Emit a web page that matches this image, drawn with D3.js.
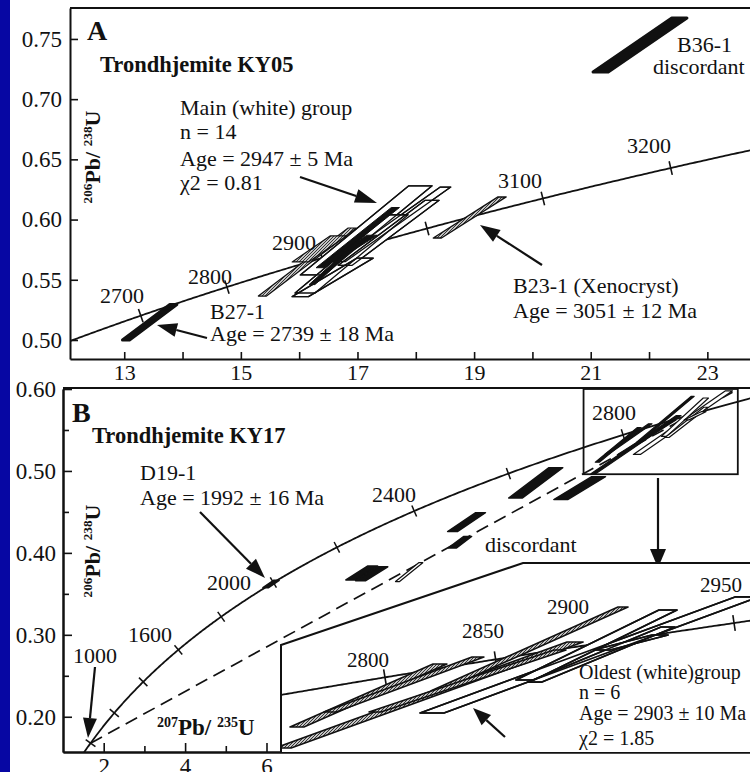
<!DOCTYPE html>
<html>
<head>
<meta charset="utf-8">
<script src="https://cdn.jsdelivr.net/npm/d3@7"></script>
<style>
  html, body { margin: 0; padding: 0; background: #fff; }
  svg { display: block; font-family: "Liberation Serif", "Times New Roman", serif; }
  text { white-space: pre; }
</style>
</head>
<body>
<svg id="chart" width="750" height="772"></svg>
<script>
// U–Pb decay constants, per Ma
const L238 = 1.55125e-4, L235 = 9.8485e-4;
// concordia point [207Pb/235U, 206Pb/238U] for an age in Ma
const concordia = t => [Math.exp(L235 * t) - 1, Math.exp(L238 * t) - 1];

// ---------- Panel A : Trondhjemite KY05 ----------
const aXTicks = [13, 14, 15, 16, 17, 18, 19, 20, 21, 22, 23];
const aXLabels = [13, 15, 17, 19, 21, 23];
const aYTicks = [0.50, 0.55, 0.60, 0.65, 0.70, 0.75];
const aAgeTicks = [2700, 2800, 2900, 3000, 3100, 3200];
const aAgeLabels = [2700, 2800, 2900, 3100, 3200];

// grain error shapes: [207/235 low, 206/238 low, 207/235 high, 206/238 high, half-width (207/235)]
const aMainWhite = [
  [16.22, 0.554, 18.08, 0.628, 0.20],
  [16.70, 0.565, 18.51, 0.627, 0.09],
  [16.10, 0.539, 17.70, 0.604, 0.17],
  [16.79, 0.562, 18.28, 0.616, 0.12],
  [16.02, 0.536, 17.13, 0.568, 0.14]
];
const aMainGrey = [
  [15.37, 0.5365, 16.91, 0.593, 0.07],
  [16.02, 0.5648, 16.67, 0.5864, 0.14]
];
const aMainBlack = [
  [16.36, 0.560, 17.65, 0.610, 0.07],
  [16.53, 0.565, 17.25, 0.587, 0.09],
  [16.22, 0.546, 16.88, 0.575, 0.05]
];
const b27Age = 2739;                       // upper end sits on concordia
const b27Low = [13.03, 0.500], b27Err = 0.06;
const b23 = [18.37, 0.5847, 19.48, 0.6188, 0.07];
const b36 = [21.17, 0.7226, 22.52, 0.7674, 0.13];

// ---------- Panel B : Trondhjemite KY17 ----------
const bXMajor = [2, 4, 6], bXMinor = [3, 5];
const bYMajor = [0.20, 0.30, 0.40, 0.50, 0.60], bYMinor = [0.25, 0.35, 0.45, 0.55];
const bAgeTicks = [1000, 1200, 1400, 1600, 1800, 2000, 2200, 2400, 2600, 2800];
const bAgeLabels = [1000, 1600, 2000, 2400, 2800];
const insetAgeTicks = [2800, 2850, 2900, 2950];
const discordiaLower = 1000, discordiaUpper = 2903, discordiaEnd = 17.45;
const d19Age = 1992;
const bBlack = [
  [8.07, 0.367, 8.61, 0.384, 0.12],
  [8.31, 0.366, 8.86, 0.383, 0.12],
  [10.57, 0.426, 11.26, 0.449, 0.12],
  [10.57, 0.406, 10.94, 0.420, 0.10],
  [12.12, 0.467, 13.11, 0.504, 0.17],
  [13.23, 0.465, 14.16, 0.493, 0.17]
];
const bWhite = [[9.22, 0.365, 9.79, 0.388, 0.05]];
// oldest group, shown magnified in the inset
const oldGrey = [
  [14.129, 0.5107, 15.157, 0.5529, 0.050],
  [14.367, 0.5208, 15.430, 0.5576, 0.043],
  [14.029, 0.4967, 16.128, 0.5676, 0.058],
  [15.130, 0.5350, 16.473, 0.5911, 0.036],
  [14.690, 0.5208, 16.020, 0.5623, 0.043]
];
const oldWhite = [
  [15.100, 0.5201, 17.364, 0.5978, 0.086],
  [15.768, 0.5422, 16.796, 0.5890, 0.065],
  [15.840, 0.5408, 16.796, 0.5777, 0.050],
  [16.322, 0.5623, 16.739, 0.5723, 0.058]
];
const zoomBox = [13.79, 0.496, 17.58, 0.600];

// ---------- drawing ----------
const W = 750, H = 772;
const INK = '#111';
const FONT = '"Liberation Serif", "Times New Roman", serif';
const svg = d3.select('#chart');
svg.append('rect').attr('width', W).attr('height', H).attr('fill', '#fff');
svg.append('rect').attr('width', 10).attr('height', H).attr('fill', '#0707a3');

const defs = svg.append('defs');
const pat = defs.append('pattern').attr('id', 'hatch')
  .attr('patternUnits', 'userSpaceOnUse').attr('width', 3).attr('height', 3);
pat.append('rect').attr('width', 3).attr('height', 3).attr('fill', '#c4c4c4');
pat.append('path').attr('d', 'M0,3L3,0M-1,1L1,-1M2,4L4,2').attr('stroke', '#333').attr('stroke-width', 1);

const xA = d3.scaleLinear().domain([12.07, 23.8]).range([70, 754]);
const yA = d3.scaleLinear().domain([0.4842, 0.7757]).range([359, 8]);
const xB = d3.scaleLinear().domain([1, 18]).range([63, 754.9]);
const yB = d3.scaleLinear().domain([0.157, 0.6]).range([752, 389]);
const xI = d3.scaleLinear().domain([14.0, 17.4]).range([279, 752]);
const yI = d3.scaleLinear().domain([0.494, 0.6205]).range([752, 563]);

defs.append('clipPath').attr('id', 'clipA').append('rect')
  .attr('x', 70).attr('y', 8).attr('width', 680).attr('height', 351);
defs.append('clipPath').attr('id', 'clipB').append('rect')
  .attr('x', 63).attr('y', 388).attr('width', 687).attr('height', 364);
const insetPoly = [[281, 752], [281, 645], [523, 563], [752, 563], [752, 752]];
defs.append('clipPath').attr('id', 'clipI').append('polygon')
  .attr('points', insetPoly.map(p => p.join(',')).join(' '));

const lineGen = (xs, ys) => d3.line().x(p => xs(p[0])).y(p => ys(p[1]));

function concordiaCurve(g, xs, ys, t0, t1, step, sw) {
  const pts = d3.range(t0, t1 + step / 2, step).map(concordia);
  g.append('path').attr('d', lineGen(xs, ys)(pts))
    .attr('fill', 'none').attr('stroke', INK).attr('stroke-width', sw);
}
function ageTicks(g, xs, ys, ages, len, sw) {
  ages.forEach(t => {
    const p = concordia(t), a = concordia(t - 1), b = concordia(t + 1);
    const dx = xs(b[0]) - xs(a[0]), dy = ys(b[1]) - ys(a[1]), n = Math.hypot(dx, dy);
    const nx = -dy / n, ny = dx / n, X = xs(p[0]), Y = ys(p[1]);
    g.append('line').attr('x1', X - nx * len).attr('y1', Y - ny * len)
      .attr('x2', X + nx * len).attr('y2', Y + ny * len)
      .attr('stroke', INK).attr('stroke-width', sw);
  });
}
function grain(g, d, xs, ys, kind, sw) {
  const [x1, y1, x2, y2, e] = d;
  const pts = [[x1 - e, y1], [x2 - e, y2], [x2 + e, y2], [x1 + e, y1]];
  const path = g.append('path').attr('d', lineGen(xs, ys)(pts) + 'Z')
    .attr('stroke', INK).attr('stroke-width', sw || 1.2).attr('stroke-linejoin', 'round');
  if (kind === 'white') path.attr('fill', '#fff');
  else if (kind === 'grey') path.attr('fill', 'url(#hatch)');
  else if (kind === 'outline') path.attr('fill', 'none');
  else path.attr('fill', INK);
  return path;
}
function arrow(g, x1, y1, x2, y2, len, hw) {
  len = len || 20; hw = hw || 7;
  const a = Math.atan2(y2 - y1, x2 - x1);
  const bx = x2 - len * Math.cos(a), by = y2 - len * Math.sin(a);
  g.append('line').attr('x1', x1).attr('y1', y1).attr('x2', bx).attr('y2', by)
    .attr('stroke', INK).attr('stroke-width', 2.2);
  g.append('path').attr('d',
    `M${x2},${y2}L${bx + hw * Math.sin(a)},${by - hw * Math.cos(a)}L${bx - hw * Math.sin(a)},${by + hw * Math.cos(a)}Z`)
    .attr('fill', INK);
}
function label(g, x, y, s, size, bold, anchor) {
  return g.append('text').attr('x', x).attr('y', y).text(s)
    .attr('font-size', size).attr('font-weight', bold ? 'bold' : 'normal')
    .attr('text-anchor', anchor || 'start').attr('fill', INK);
}
function isoLabel(g, x, y, rot, sup1, main1, sup2, main2, size) {
  const t = g.append('text').attr('transform', `translate(${x},${y}) rotate(${rot})`)
    .attr('font-weight', 'bold').attr('font-size', size).attr('text-anchor', 'middle').attr('fill', INK);
  const s = size * 0.6, up = size * 0.36;
  t.append('tspan').attr('font-size', s).attr('dy', -up).text(sup1);
  t.append('tspan').attr('dy', up).text(main1);
  t.append('tspan').attr('font-size', s).attr('dy', -up).text(sup2);
  t.append('tspan').attr('dy', up).text(main2);
}
function styleAxis(ax, size) {
  ax.attr('font-size', size).attr('font-family', FONT);
  ax.select('.domain').attr('stroke', INK).attr('stroke-width', 2);
  ax.selectAll('.tick line').attr('stroke', INK).attr('stroke-width', 1.6);
  ax.selectAll('.tick text').attr('fill', INK);
}

// ================= Panel A =================
const gA = svg.append('g');
gA.append('line').attr('x1', 70).attr('y1', 8).attr('x2', 750).attr('y2', 8)
  .attr('stroke', INK).attr('stroke-width', 2);
styleAxis(gA.append('g').attr('transform', 'translate(0,359)')
  .call(d3.axisBottom(xA).tickValues(aXTicks).tickSize(-7).tickSizeOuter(0).tickPadding(5)
    .tickFormat(d => aXLabels.includes(d) ? d : '')), 22);
styleAxis(gA.append('g').attr('transform', 'translate(70,0)')
  .call(d3.axisLeft(yA).tickValues(aYTicks).tickSize(-8).tickSizeOuter(0).tickPadding(8)
    .tickFormat(d3.format('.2f'))), 23);

const pA = gA.append('g').attr('clip-path', 'url(#clipA)');
concordiaCurve(pA, xA, yA, 2600, 3300, 2, 1.8);
ageTicks(pA, xA, yA, aAgeTicks, 7, 1.6);

// main (white) group
aMainWhite.forEach(d => grain(pA, d, xA, yA, 'white', 1.3));
aMainGrey.forEach(d => grain(pA, d, xA, yA, 'grey', 1.2));
aMainBlack.forEach(d => grain(pA, d, xA, yA, 'black', 1));
aMainWhite.forEach(d => grain(pA, d, xA, yA, 'outline', 1.3));
// single grains
const b27Top = concordia(b27Age);
grain(pA, [b27Low[0], b27Low[1], b27Top[0], b27Top[1], b27Err], xA, yA, 'black', 3);
grain(pA, b23, xA, yA, 'grey', 1.4);
grain(pA, b36, xA, yA, 'black', 3);

label(gA, 87, 40, 'A', 28, true);
label(gA, 100, 72, 'Trondhjemite KY05', 22.5, true);
label(gA, 180, 115, 'Main (white) group', 22);
label(gA, 180, 139, 'n = 14', 22);
label(gA, 180, 166, 'Age = 2947 ± 5 Ma', 22);
label(gA, 180, 190, 'χ2 = 0.81', 22);
label(gA, 677, 52, 'B36-1', 22);
label(gA, 653, 74, 'discordant', 22);
label(gA, 627, 153, '3200', 22);
label(gA, 498, 188, '3100', 22);
label(gA, 272, 250, '2900', 22);
label(gA, 188, 284, '2800', 22);
label(gA, 100, 303, '2700', 22);
label(gA, 210, 319, 'B27-1', 22);
label(gA, 210, 341, 'Age = 2739 ± 18 Ma', 22);
label(gA, 513, 293, 'B23-1 (Xenocryst)', 22);
label(gA, 513, 318, 'Age = 3051 ± 12 Ma', 22);
isoLabel(gA, 100, 157, -90, '206', 'Pb/ ', '238', 'U', 22);
arrow(gA, 300, 177, 377, 203, 22, 7);
arrow(gA, 207, 338, 157, 325, 20, 7);
arrow(gA, 542, 265, 480, 225, 20, 7);

// ================= Panel B =================
const gB = svg.append('g');
gB.append('line').attr('x1', 63).attr('y1', 388).attr('x2', 750).attr('y2', 388)
  .attr('stroke', INK).attr('stroke-width', 2);
styleAxis(gB.append('g').attr('transform', 'translate(0,752)')
  .call(d3.axisBottom(xB).tickValues(bXMajor).tickSize(-9).tickSizeOuter(0).tickPadding(6)), 23);
styleAxis(gB.append('g').attr('transform', 'translate(0,752)')
  .call(d3.axisBottom(xB).tickValues(bXMinor).tickSize(-6).tickSizeOuter(0).tickFormat('')), 23);
styleAxis(gB.append('g').attr('transform', 'translate(63,0)')
  .call(d3.axisLeft(yB).tickValues(bYMajor).tickSize(-9).tickSizeOuter(0).tickPadding(7)
    .tickFormat(d3.format('.2f'))), 23);
styleAxis(gB.append('g').attr('transform', 'translate(63,0)')
  .call(d3.axisLeft(yB).tickValues(bYMinor).tickSize(-6).tickSizeOuter(0).tickFormat('')), 23);

const pB = gB.append('g').attr('clip-path', 'url(#clipB)');
concordiaCurve(pB, xB, yB, 930, 3000, 5, 1.8);
ageTicks(pB, xB, yB, bAgeTicks, 6, 1.5);

// discordia through the lower and upper intercepts
const dLo = concordia(discordiaLower), dHi = concordia(discordiaUpper);
const dSlope = (dHi[1] - dLo[1]) / (dHi[0] - dLo[0]);
const dEnd = [discordiaEnd, dLo[1] + dSlope * (discordiaEnd - dLo[0])];
pB.append('path').attr('d', lineGen(xB, yB)([dLo, dEnd]))
  .attr('fill', 'none').attr('stroke', INK).attr('stroke-width', 1.7).attr('stroke-dasharray', '13,7');

bBlack.forEach(d => grain(pB, d, xB, yB, 'black', 1.5));
bWhite.forEach(d => grain(pB, d, xB, yB, 'white', 1.2));
const d19 = concordia(d19Age);
grain(pB, [d19[0] - 0.13, d19[1] - 0.0045, d19[0] + 0.13, d19[1] + 0.0045, 0.07], xB, yB, 'black', 1.5);
oldGrey.forEach(d => grain(pB, d, xB, yB, 'black', 1.2));
oldWhite.forEach(d => grain(pB, d, xB, yB, 'white', 1.2));

// zoom box and pointer
pB.append('rect').attr('x', xB(zoomBox[0])).attr('y', yB(zoomBox[3]))
  .attr('width', xB(zoomBox[2]) - xB(zoomBox[0])).attr('height', yB(zoomBox[1]) - yB(zoomBox[3]))
  .attr('fill', 'none').attr('stroke', INK).attr('stroke-width', 1.8);
arrow(gB, 658, 478, 658, 568, 19, 8);

label(gB, 72, 422, 'B', 28, true);
label(gB, 92, 443, 'Trondhjemite KY17', 22.5, true);
label(gB, 140, 480, 'D19-1', 22);
label(gB, 140, 505, 'Age = 1992 ± 16 Ma', 22);
label(gB, 372, 502, '2400', 22);
label(gB, 592, 420, '2800', 22);
label(gB, 207, 590, '2000', 22);
label(gB, 128, 642, '1600', 22);
label(gB, 73, 663, '1000', 22);
label(gB, 485, 552, 'discordant', 22);
arrow(gB, 200, 512, 265, 578, 20, 7);
arrow(gB, 95, 667, 88, 738, 20, 7);
isoLabel(gB, 100, 551, -90, '206', 'Pb/ ', '238', 'U', 22);

// ---------- inset: oldest group magnified ----------
const gI = svg.append('g');
gI.append('polygon').attr('points', insetPoly.map(p => p.join(',')).join(' ')).attr('fill', '#fff');
const pI = gI.append('g').attr('clip-path', 'url(#clipI)');
concordiaCurve(pI, xI, yI, 2740, 2995, 1, 1.8);
ageTicks(pI, xI, yI, insetAgeTicks, 8, 1.6);
oldWhite.forEach(d => grain(pI, d, xI, yI, 'white', 1.6));
oldGrey.forEach(d => grain(pI, d, xI, yI, 'grey', 1.6));
oldWhite.forEach(d => grain(pI, d, xI, yI, 'outline', 1.6));
gI.append('path').attr('d', d3.line()(insetPoly.slice(0, 4)))
  .attr('fill', 'none').attr('stroke', INK).attr('stroke-width', 2);

label(gI, 347, 667, '2800', 21);
label(gI, 462, 638, '2850', 21);
label(gI, 547, 614, '2900', 21);
label(gI, 700, 592, '2950', 21);
label(gI, 579, 679, 'Oldest (white)group', 20);
label(gI, 579, 699, 'n = 6', 20);
label(gI, 579, 720, 'Age = 2903 ± 10 Ma', 20);
label(gI, 579, 745, 'χ2 = 1.85', 20);
arrow(gI, 505, 737, 473, 708, 18, 7);

// x-axis title of panel B
const xt = gB.append('text').attr('x', 157).attr('y', 735)
  .attr('font-weight', 'bold').attr('font-size', 23).attr('fill', INK);
xt.append('tspan').attr('font-size', 14).attr('dy', -8).text('207');
xt.append('tspan').attr('dy', 8).text('Pb/ ');
xt.append('tspan').attr('font-size', 14).attr('dy', -8).text('235');
xt.append('tspan').attr('dy', 8).text('U');
</script>
</body>
</html>
